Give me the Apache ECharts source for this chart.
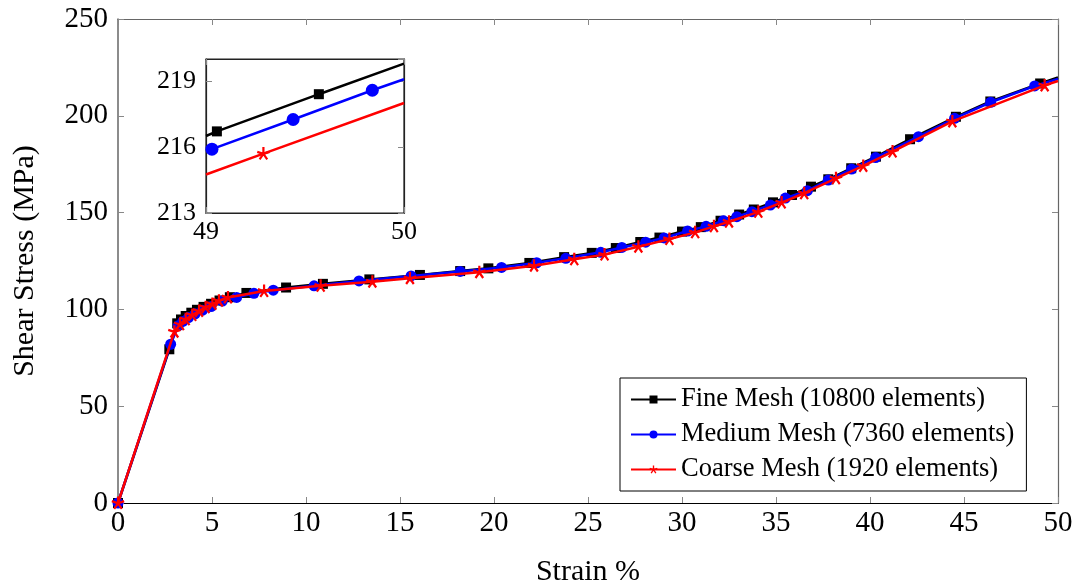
<!DOCTYPE html>
<html>
<head>
<meta charset="utf-8">
<script src="https://cdn.jsdelivr.net/npm/echarts@6/dist/echarts.min.js"></script>
<style>
  html, body { margin: 0; padding: 0; background: #fff; }
  #chart { width: 1081px; height: 588px; }
</style>
</head>
<body>
<div id="chart"></div>
<script>
// ---------- data (strain %, shear stress MPa) ----------
const seriesNames = ['Fine Mesh (10800 elements)', 'Medium Mesh (7360 elements)', 'Coarse Mesh (1920 elements)'];

const fineData = [[0,0],[2.73,79.4],[3.15,92.8],[3.35,94.8],[3.6,96.6],[3.9,98.3],[4.2,99.8],[4.55,101.3],[4.95,102.9],[5.4,104.6],[5.95,106.3],
  [6.83,108.5],[8.94,111.3],[10.9,113.2],[13.37,115.5],[16.06,117.8],[18.2,119.8],[19.7,121.2],[21.88,124.0],[23.73,127.0],[25.2,129.2],
  [26.48,131.7],[27.78,134.8],[28.8,137.1],[30.0,140.2],[31.0,142.5],[32.05,145.8],[33.04,149.0],[33.82,151.6],[34.84,155.3],[35.85,159.1],
  [36.86,163.4],[37.78,167.2],[39.0,172.9],[40.32,178.9],[42.13,187.9],[44.57,199.5],[46.4,207.4],[49.05,216.7]];
const fineEnd = [50, 219.8];

const mediumData = [[0,0],[2.8,82.0],[3.2,91.5],[3.45,93.8],[3.75,95.8],[4.1,97.7],[4.5,99.6],[4.95,101.5],[5.55,104.3],[6.31,106.2],
  [7.23,108.3],[8.26,109.9],[10.43,112.2],[12.82,114.7],[15.59,117.3],[18.2,119.6],[20.4,121.7],[22.27,124.1],[23.82,126.4],[25.68,129.5],
  [26.8,132.0],[28.07,134.7],[29.05,136.9],[30.3,140.5],[31.28,142.9],[32.2,145.8],[32.92,147.9],[33.72,150.5],[34.7,153.9],[35.5,157.5],
  [36.67,161.3],[37.78,166.8],[39.02,172.5],[40.3,178.4],[42.58,189.2],[44.5,198.7],[46.42,207.0],[48.76,215.4]];
const mediumEnd = [50, 219.1];

const coarseData = [[0,0],[3.0,88.5],[3.3,92.3],[3.6,94.9],[3.95,97.1],[4.31,99.2],[4.66,101.1],[5.02,102.8],[5.37,104.5],[5.85,106.2],
  [7.77,109.5],[10.78,112.2],[13.53,114.3],[15.53,116.1],[19.22,119.2],[22.13,122.6],[24.27,125.9],[25.88,128.3],[27.68,132.4],[29.33,136.3],
  [30.7,139.8],[31.7,142.9],[32.5,145.3],[34.06,150.4],[35.3,155.2],[36.5,160.0],[38.19,167.7],[39.64,174.1],[41.2,181.5],[44.38,197.1],[49.29,215.7]];
const coarseEnd = [50, 218.0];

// inset (zoom 49–50 %)
const fineInset = [[49,216.5],[49.055,216.71],[49.57,218.4],[50,219.79]];
const mediumInset = [[49,215.82],[49.03,215.9],[49.44,217.25],[49.84,218.58],[50,219.08]];
const coarseInset = [[49,214.75],[49.29,215.7],[50,218.0]];

// axis ticks
const mainXTicks = [0, 50, 5];     // min, max, interval
const mainYTicks = [0, 250, 50];
const insetXTicks = [49, 50, 1];
const insetYTicks = [213, 220, 3];

// ---------- styling ----------
const FONT = "'Liberation Serif', 'DejaVu Serif', serif";
// five-ray asterisk (pgfplots "star" mark)
const STAR = 'path://M11.7,10L11.7,0L8.3,0L8.3,10Z M10.525,11.617L20.035,8.527L18.985,5.293L9.475,8.383Z M8.625,11.0L14.505,19.09L17.255,17.09L11.375,9.0Z M8.625,9.0L2.745,17.09L5.495,19.09L11.375,11.0Z M10.525,8.383L1.015,5.293L-0.035,8.527L9.475,11.617Z';
const colors = ['#000000', '#0000ff', '#ff0000'];
const symbols = ['rect', 'circle', STAR];
const mainSizes = [10, 11, 13];
const insetSizes = [10, 13, 13];

function withEnd(arr, end) {
  return arr.map(p => p.slice()).concat([{ value: end, symbol: 'none' }]);
}
function insetItems(arr) {
  return arr.map((p, i) => (i === 0 || i === arr.length - 1) ? { value: p, symbol: 'none' } : p);
}

const tickStyle = { show: true, inside: true, length: 6, lineStyle: { color: '#888', width: 1 } };
const mainLabel = { color: '#000', fontFamily: FONT, fontSize: 29 };
const insetLabel = { color: '#000', fontFamily: FONT, fontSize: 26 };

function valAxis(gridIndex, t, pos, opts) {
  return Object.assign({
    type: 'value', gridIndex: gridIndex, position: pos,
    min: t[0], max: t[1], interval: t[2],
    splitLine: { show: false },
    axisTick: tickStyle,
    axisLine: { show: true, onZero: false, lineStyle: { color: '#666', width: 1.2 } },
    axisLabel: { show: false }
  }, opts || {});
}

const mainLineData = [withEnd(fineData, fineEnd), withEnd(mediumData, mediumEnd), withEnd(coarseData, coarseEnd)];
const insetLineData = [insetItems(fineInset), insetItems(mediumInset), insetItems(coarseInset)];

const series = [];
for (let i = 0; i < 3; i++) {
  series.push({
    name: seriesNames[i], type: 'line', xAxisIndex: 0, yAxisIndex: 0,
    data: mainLineData[i], symbol: symbols[i], symbolSize: mainSizes[i], showAllSymbol: true,
    lineStyle: { color: colors[i], width: 2.5 }, itemStyle: { color: colors[i] },
    animation: false, z: 3 + i, clip: true
  });
}
for (let i = 0; i < 3; i++) {
  series.push({
    name: seriesNames[i], type: 'line', xAxisIndex: 2, yAxisIndex: 2,
    data: insetLineData[i], symbol: symbols[i], symbolSize: insetSizes[i], showAllSymbol: true,
    lineStyle: { color: colors[i], width: 2.5 }, itemStyle: { color: colors[i] },
    animation: false, z: 13 + i, clip: true
  });
}

const option = {
  backgroundColor: '#fff',
  animation: false,
  grid: [
    { left: 118, top: 19, width: 940, height: 484, show: false, containLabel: false, outerBoundsMode: 'none' },
    { left: 206, top: 59, width: 198, height: 154, show: true, backgroundColor: '#fff', borderColor: '#222', borderWidth: 1.2, z: 10, containLabel: false, outerBoundsMode: 'none' }
  ],
  xAxis: [
    valAxis(0, mainXTicks, 'bottom', {
      name: 'Strain %', nameLocation: 'middle', nameGap: 54,
      nameTextStyle: { color: '#000', fontFamily: FONT, fontSize: 30 },
      axisLine: { show: true, onZero: false, lineStyle: { color: '#000', width: 1.2 } },
      axisLabel: Object.assign({ show: true, margin: 6 }, mainLabel)
    }),
    valAxis(0, mainXTicks, 'top'),
    valAxis(1, insetXTicks, 'bottom', {
      axisLine: { show: true, onZero: false, lineStyle: { color: '#222', width: 1.2 } },
      axisLabel: Object.assign({ show: true, margin: 6 }, insetLabel), z: 11
    }),
    valAxis(1, insetXTicks, 'top', { axisLine: { show: true, onZero: false, lineStyle: { color: '#222', width: 1.2 } }, z: 11 })
  ],
  yAxis: [
    valAxis(0, mainYTicks, 'left', {
      name: 'Shear Stress (MPa)', nameLocation: 'middle', nameGap: 78, nameRotate: 90,
      nameTextStyle: { color: '#000', fontFamily: FONT, fontSize: 30 },
      axisLine: { show: true, onZero: false, lineStyle: { color: '#666', width: 1.5 } },
      axisLabel: Object.assign({ show: true, margin: 10 }, mainLabel)
    }),
    valAxis(0, mainYTicks, 'right'),
    valAxis(1, insetYTicks, 'left', {
      axisLine: { show: true, onZero: false, lineStyle: { color: '#222', width: 1.2 } },
      axisLabel: Object.assign({ show: true, margin: 10, showMaxLabel: false }, insetLabel), z: 11
    }),
    valAxis(1, insetYTicks, 'right', { axisLine: { show: true, onZero: false, lineStyle: { color: '#222', width: 1.2 } }, z: 11 })
  ],
  legend: {
    data: seriesNames,
    orient: 'vertical',
    left: 620, top: 378,
    padding: [8, 12, 8, 10],
    itemGap: 8,
    itemWidth: 45, itemHeight: 10,
    backgroundColor: '#fff',
    borderColor: '#000', borderWidth: 1, borderRadius: 0,
    textStyle: { color: '#000', fontFamily: FONT, fontSize: 26.5, lineHeight: 26 },
    z: 20
  },
  series: series
};

const chart = echarts.init(document.getElementById('chart'), null, { renderer: 'canvas' });
chart.setOption(option);
</script>
</body>
</html>
